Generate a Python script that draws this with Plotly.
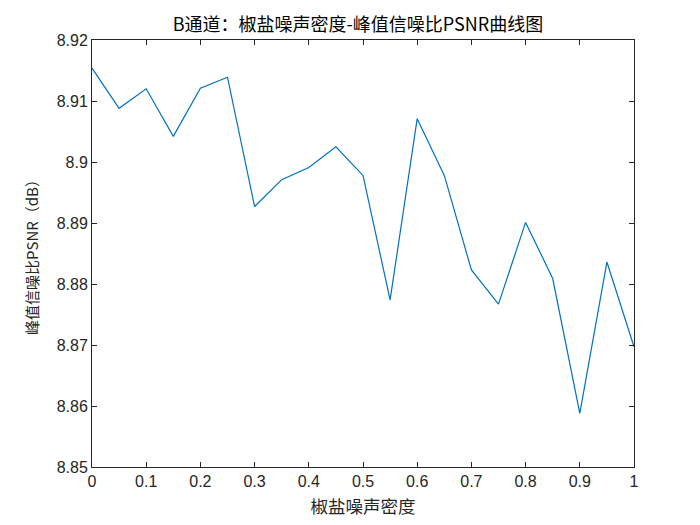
import plotly.graph_objects as go

noise_density = [0, 0.05, 0.1, 0.15, 0.2, 0.25, 0.3, 0.35, 0.4, 0.45, 0.5,
                 0.55, 0.6, 0.65, 0.7, 0.75, 0.8, 0.85, 0.9, 0.95, 1.0]
psnr_b = [8.9154, 8.9088, 8.9120, 8.9042, 8.9121, 8.9139, 8.8927, 8.8971, 8.8991,
          8.9025, 8.8978, 8.8774, 8.9071, 8.8978, 8.8823, 8.8767, 8.8901, 8.8809,
          8.8588, 8.8836, 8.8697]

title_text = "B通道：椒盐噪声密度-峰值信噪比PSNR曲线图"
x_label = "椒盐噪声密度"
y_label = "峰值信噪比PSNR（dB）"

font_family = "Liberation Sans, Arial, sans-serif"
cjk_family = "Noto Sans CJK SC, Liberation Sans, sans-serif"
axis_color = "#262626"

fig = go.Figure()
fig.add_trace(go.Scatter(x=noise_density, y=psnr_b, mode="lines",
                         line=dict(color="#0072BD", width=1.2), showlegend=False))

axis_common = dict(
    showline=True, linecolor=axis_color, linewidth=1, mirror="ticks",
    ticks="inside", ticklen=5, tickcolor=axis_color, tickwidth=1,
    showgrid=False, zeroline=False,
    tickfont=dict(family=font_family, size=16, color=axis_color),
)

fig.update_layout(
    width=700, height=525,
    paper_bgcolor="white", plot_bgcolor="white",
    margin=dict(l=84, r=74, t=32, b=66),
    title=dict(text=title_text, x=0.5, xanchor="center", y=1 - 17 / 525,
               yanchor="middle", font=dict(family=cjk_family, size=18, color="black")),
    xaxis=dict(range=[0, 1], dtick=0.1, tick0=0,
               title=dict(text=x_label, standoff=11,
                          font=dict(family=cjk_family, size=17.5, color=axis_color)),
               **axis_common),
    yaxis=dict(range=[8.85, 8.92], dtick=0.01, tick0=8.85,
               title=dict(text=y_label, standoff=14,
                          font=dict(family=cjk_family, size=15, color=axis_color)),
               **axis_common),
)

fig.write_html("out.html")
